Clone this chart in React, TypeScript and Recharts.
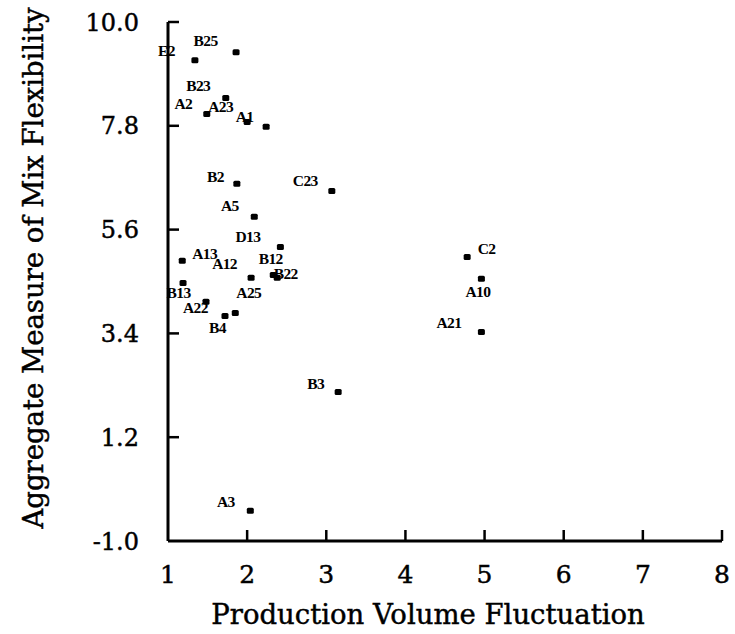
import { LabelList, Scatter, ScatterChart, XAxis, YAxis } from "recharts";

// plant codes and their two measures
const plants = ["E2", "B25", "B23", "A2", "A23", "A1", "B2", "C23", "A5", "D13", "A13", "B13",
  "A12", "A25", "B12", "B22", "A22", "B4", "C2", "A10", "A21", "B3", "A3"]
const volumeFluct = [1.34, 1.86, 1.73, 1.49, 2.0, 2.24, 1.87, 3.07, 2.09, 2.42, 1.18, 1.19,
  2.05, 1.85, 2.33, 2.38, 1.48, 1.72, 4.78, 4.96, 4.96, 3.15, 2.04]
const mixFlex = [9.19, 9.36, 8.39, 8.05, 7.88, 7.78, 6.57, 6.42, 5.87, 5.23, 4.94, 4.47,
  4.58, 3.83, 4.64, 4.58, 4.07, 3.77, 5.02, 4.56, 3.43, 2.16, -0.36]

const xTicks = [1, 2, 3, 4, 5, 6, 7, 8]
const yTicks = [-1.0, 1.2, 3.4, 5.6, 7.8, 10.0]

// where each code sits relative to its dot (the original is hand placed)
const labelShift: Record<string, [number, number]> = {
  E2: [-24, -5], B25: [-26, -7], B23: [-23, -8], A2: [-19, -6], A23: [-22, -11],
  A1: [-17, -6], B2: [-17, -3], C23: [-22, -6], A5: [-20, -7], D13: [-28, -6],
  A13: [27, -3], B13: [0, 14], A12: [-22, -10], A25: [18, -16], B12: [2, -12],
  B22: [13, 0], A22: [-6, 10], B4: [-3, 16], C2: [24, -4], A10: [1, 17],
  A21: [-28, -5], B3: [-18, -4], A3: [-20, -5],
}

const data = plants.map((name, i) => ({ name, x: volumeFluct[i], y: mixFlex[i] }))

const serif = "'DejaVu Serif', serif"
const ink = { fill: "#000", stroke: "#000", strokeWidth: 0.45 }

const XTick = (props: any) => {
  const { x, y, payload } = props
  return (
    <g>
      {payload.value !== 1 && <line x1={x} x2={x} y1={y} y2={y - 11} stroke="#000" strokeWidth={2.5} />}
      <text x={x} y={y + 42} textAnchor="middle" fontFamily={serif} fontSize={25} {...ink}>{payload.value}</text>
    </g>
  )
}

const YTick = (props: any) => {
  const { x, y, payload } = props
  return (
    <g>
      {payload.value !== -1 && <line x1={x} x2={x + 11} y1={y} y2={y} stroke="#000" strokeWidth={2.5} />}
      <text x={x - 29} y={y} dy="0.36em" textAnchor="end" fontFamily={serif} fontSize={24} {...ink}>
        {payload.value.toFixed(1)}
      </text>
    </g>
  )
}

const Dot = (props: any) => (
  <rect x={props.cx - 3.5} y={props.cy - 3} width={7} height={6} rx={1.5} fill="#000" />
)

const PlantLabel = (props: any) => {
  const { x, y, value } = props
  const [dx, dy] = labelShift[value] || [-18, -6]
  return (
    <text x={x + dx} y={y + dy} dy="0.35em" textAnchor="middle"
      fontFamily="'Liberation Serif', serif" fontWeight="bold" fontSize={15.5} letterSpacing={-0.6} fill="#000">
      {value}
    </text>
  )
}

export default function App() {
  return (
    <div style={{ position: "absolute", left: 0, top: 0, background: "#fff" }}>
      <ScatterChart width={735} height={634} margin={{ top: 22, right: 13, bottom: 33, left: 108 }}>
        <XAxis type="number" dataKey="x" domain={[1, 8]} ticks={xTicks} interval={0}
          height={60} tickSize={0} tickMargin={0} tick={<XTick />}
          axisLine={{ stroke: "#000", strokeWidth: 3 }} allowDataOverflow />
        <YAxis type="number" dataKey="y" domain={[-1, 10]} ticks={yTicks} interval={0}
          width={60} tickSize={0} tickMargin={0} tick={<YTick />}
          axisLine={{ stroke: "#000", strokeWidth: 3 }} allowDataOverflow />
        <Scatter data={data} shape={<Dot />} isAnimationActive={false}>
          <LabelList dataKey="name" content={<PlantLabel />} />
        </Scatter>
      </ScatterChart>
      <div style={{ position: "absolute", left: 0, top: 0, width: 735, height: 634, pointerEvents: "none" }}>
        <svg width={735} height={634}>
          <text x={428} y={624} textAnchor="middle" fontFamily={serif} fontSize={27.5} {...ink}>
            Production Volume Fluctuation
          </text>
          <text x={33} y={268} transform="rotate(-90 33 268)" dy="0.35em" textAnchor="middle"
            fontFamily={serif} fontSize={27.5} {...ink}>Aggregate Measure of Mix Flexibility</text>
        </svg>
      </div>
    </div>
  )
}
